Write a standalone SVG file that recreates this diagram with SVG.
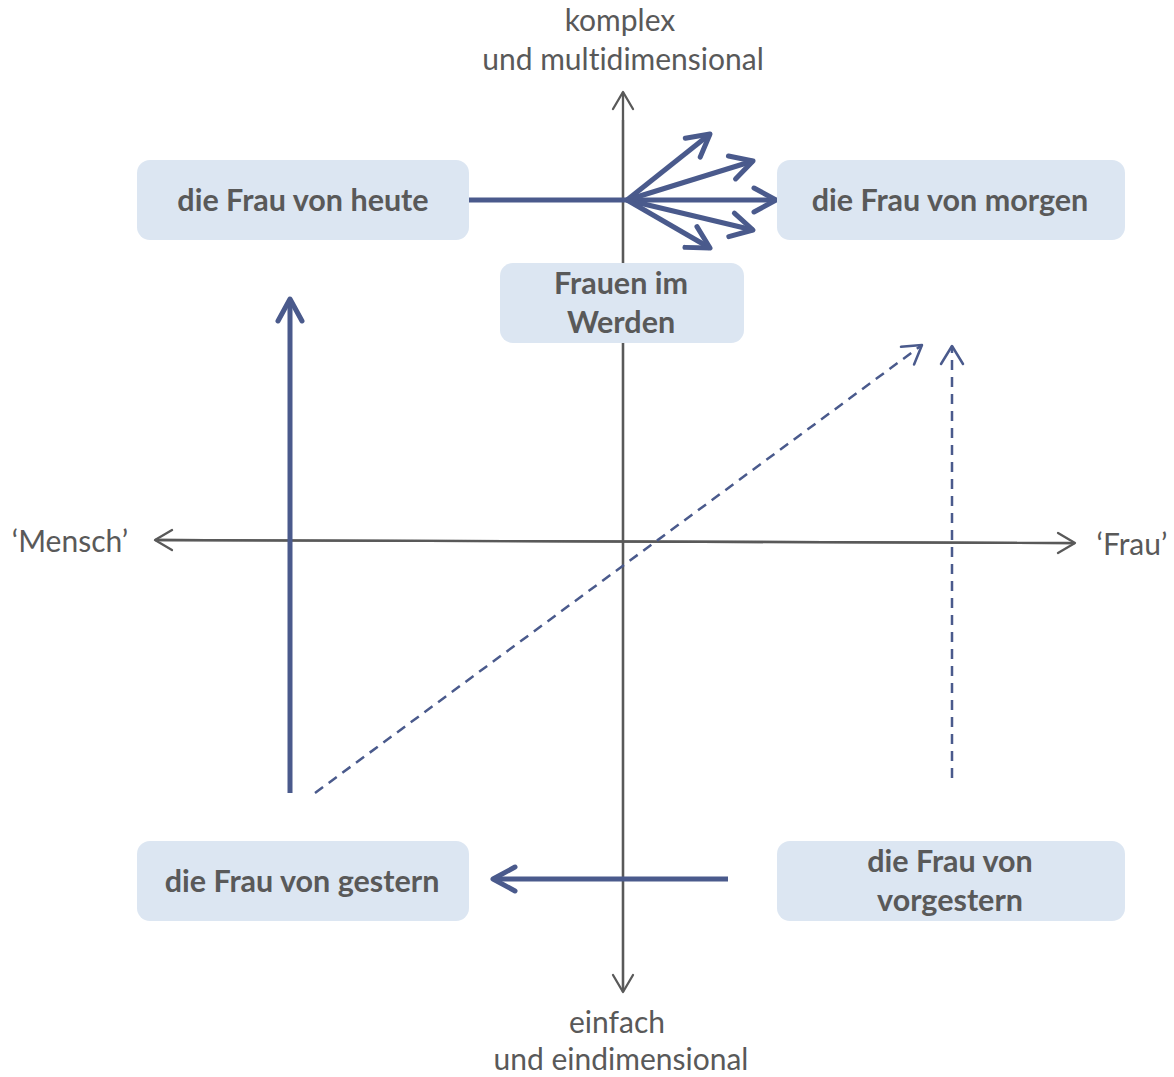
<svg xmlns="http://www.w3.org/2000/svg" width="1174" height="1077" viewBox="0 0 1174 1077">
<style>
.box{fill:#dce6f2}
.nt{font-family:Lato,"Open Sans",sans-serif;font-weight:bold;font-size:30.5px;fill:#595959;text-anchor:middle;font-variant-ligatures:none}
.at{font-family:Lato,"Open Sans",sans-serif;font-size:30px;fill:#595959;text-anchor:middle;font-variant-ligatures:none}
.axis{stroke:#595959;stroke-width:2.3;fill:none}
.thick{stroke:#4a5a8c;stroke-width:5;fill:none}
.dash{stroke:#4a5a8c;stroke-width:2.5;fill:none;stroke-dasharray:10 7}
</style>
<defs>
<marker id="ax" markerUnits="userSpaceOnUse" markerWidth="40" markerHeight="40" viewBox="-30 -20 40 40" refX="0" refY="0" orient="auto" overflow="visible">
<path d="M-17,-10 L0,0 L-17,10" fill="none" stroke="#595959" stroke-width="2.3" stroke-linecap="round" stroke-linejoin="round"/>
</marker>
<marker id="th" markerUnits="userSpaceOnUse" markerWidth="40" markerHeight="40" viewBox="-30 -20 40 40" refX="0" refY="0" orient="auto" overflow="visible">
<path d="M-22,-12 L0,0 L-22,12" fill="none" stroke="#4a5a8c" stroke-width="5" stroke-linecap="round" stroke-linejoin="round"/>
</marker>
<marker id="da" markerUnits="userSpaceOnUse" markerWidth="40" markerHeight="40" viewBox="-30 -20 40 40" refX="0" refY="0" orient="auto" overflow="visible">
<path d="M-18,-11 L0,0 L-18,11" fill="none" stroke="#4a5a8c" stroke-width="2.5" stroke-linecap="round" stroke-linejoin="round"/>
</marker>
</defs>
<g id="connectors">
<line class="axis" x1="623" y1="990" x2="623" y2="92" marker-end="url(#ax)"/>
<line class="axis" x1="623" y1="120" x2="623" y2="992" marker-end="url(#ax)"/>
<line class="axis" x1="1070" y1="543" x2="155" y2="540" marker-end="url(#ax)"/>
<line class="axis" x1="160" y1="540" x2="1075" y2="543" marker-end="url(#ax)"/>
<line class="thick" x1="468" y1="200" x2="627" y2="200"/>
<line class="thick" x1="627" y1="200" x2="710" y2="134" marker-end="url(#th)"/>
<line class="thick" x1="627" y1="200" x2="753" y2="161" marker-end="url(#th)"/>
<line class="thick" x1="627" y1="200" x2="776" y2="200" marker-end="url(#th)"/>
<line class="thick" x1="627" y1="200" x2="753" y2="230" marker-end="url(#th)"/>
<line class="thick" x1="627" y1="200" x2="710" y2="248" marker-end="url(#th)"/>
<line class="thick" x1="290" y1="793" x2="290" y2="299" marker-end="url(#th)"/>
<line class="thick" x1="728" y1="879" x2="493" y2="879" marker-end="url(#th)"/>
<line class="dash" x1="315" y1="793" x2="922" y2="345" marker-end="url(#da)"/>
<line class="dash" x1="952" y1="778" x2="952" y2="346" marker-end="url(#da)"/>
</g>
<g id="heute"><rect class="box" x="137" y="160" width="332" height="80" rx="13"/><text class="nt" x="303" y="211">die Frau von heute</text></g>
<g id="morgen"><rect class="box" x="777" y="160" width="348" height="80" rx="13"/><text class="nt" x="950" y="211">die Frau von morgen</text></g>
<g id="werden"><rect class="box" x="500" y="263" width="244" height="80" rx="13"/><text class="nt" x="621" y="294">Frauen im</text><text class="nt" x="621" y="333">Werden</text></g>
<g id="gestern"><rect class="box" x="137" y="841" width="332" height="80" rx="13"/><text class="nt" x="302" y="892">die Frau von gestern</text></g>
<g id="vorgestern"><rect class="box" x="777" y="841" width="348" height="80" rx="13"/><text class="nt" x="950" y="872">die Frau von</text><text class="nt" x="950" y="911">vorgestern</text></g>
<g id="labels">
<text class="at" x="620" y="31">komplex</text>
<text class="at" x="623" y="70">und multidimensional</text>
<text class="at" x="617" y="1033">einfach</text>
<text class="at" x="621" y="1070">und eindimensional</text>
<text class="at" x="70" y="552">‘Mensch’</text>
<text class="at" x="1132" y="555">‘Frau’</text>
</g>
</svg>
